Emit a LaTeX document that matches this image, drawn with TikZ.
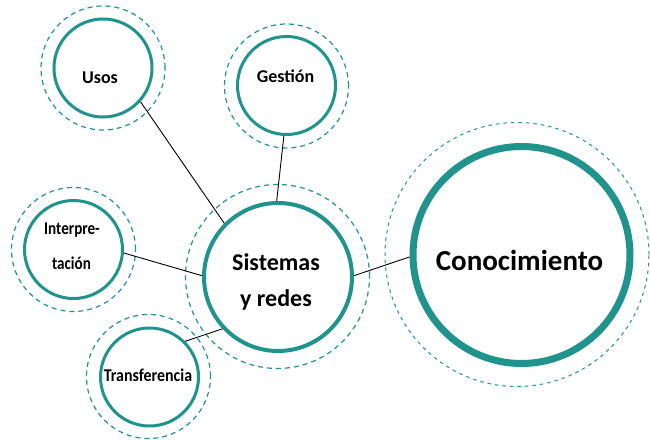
\documentclass[tikz,border=0pt]{standalone}
\usepackage{fontspec}
\setmainfont{Carlito}
\usepackage{graphicx}
\definecolor{hubteal}{RGB}{32,147,140}
\tikzset{
  ring/.style={circle, draw=hubteal, line width=3pt, minimum size=98pt, inner sep=0pt},
  halo/.style={circle, draw=hubteal, line width=1.2pt, dash pattern=on 5pt off 4pt, inner sep=0pt, minimum size=124pt},
  link/.style={draw=black, line width=0.9pt},
  lbl/.style={font=\bfseries\fontsize{18}{20}\selectfont, anchor=base, inner sep=0pt},
  biglbl/.style={font=\bfseries\fontsize{24}{26}\selectfont, anchor=base, inner sep=0pt},
  hugelbl/.style={font=\bfseries\fontsize{29}{31}\selectfont, anchor=base, inner sep=0pt},
}
\begin{document}
\begin{tikzpicture}[x=1pt, y=-1pt]
\path[use as bounding box] (0,0) rectangle (650,439);

% dashed halos
\node[halo] (usosH) at (103,68) {};
\node[halo] (gesH) at (286.5,86) {};
\node[halo] (interpH) at (73.5,249.5) {};
\node[halo] (transH) at (148.5,376.5) {};
\node[halo, minimum size=184pt] (sisH) at (277.5,276.5) {};
\node[halo, line width=1pt, dash pattern=on 3.5pt off 4pt, minimum size=264pt] (conH) at (517,254.5) {};

% solid rings
\node[ring] (usos) at (103,68) {};
\node[ring] (ges) at (286.5,85.5) {};
\node[ring] (interp) at (73.5,249.5) {};
\node[ring] (trans) at (149.5,377) {};
\node[ring, line width=4pt, minimum size=148pt] (sis) at (278,277) {};
\node[ring, line width=7pt, minimum size=217pt] (con) at (521.5,255) {};

% connectors
\draw[link] (usos.-42) -- (sis.135);
\draw[link] (ges.-93) -- (sis.91);
\draw[link] (interp.-4) -- (sis.179);
\draw[link] (trans.45) -- (sis.223);
\draw[link] (sis.1.5) -- (con.181);

% labels
\node[lbl] (usosT) at (100,83.3) {Usos};
\node[lbl] (gesT) at (285.5,82.7) {Gestión};
\node[lbl] (interpT1) at (72,234) {\scalebox{0.84}[1]{Interpre-}};
\node[lbl] (interpT2) at (71.5,269.3) {\scalebox{0.84}[1]{tación}};
\node[lbl] (transT) at (148,381.7) {\scalebox{0.885}[1]{Transferencia}};
\node[biglbl] (sisT1) at (276,270.7) {Sistemas};
\node[biglbl] (sisT2) at (276,306.7) {y redes};
\node[hugelbl] (conT) at (519.5,270.7) {Conocimiento};
\end{tikzpicture}
\end{document}
